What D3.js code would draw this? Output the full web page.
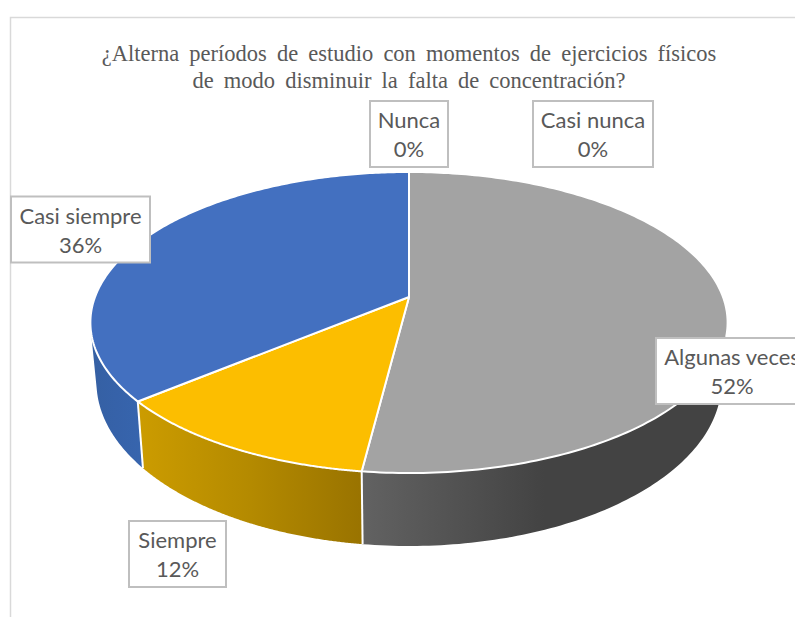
<!DOCTYPE html>
<html>
<head>
<meta charset="utf-8">
<script src="https://cdn.jsdelivr.net/npm/d3@7"></script>
<style>
html,body{margin:0;padding:0;background:#fff;overflow:hidden}
</style>
</head>
<body>
<svg id="app" width="795" height="617"></svg>
<script>
const categories = ['Nunca', 'Casi nunca', 'Algunas veces', 'Siempre', 'Casi siempre'];
const values = [0, 0, 52, 12, 36];
const titleLines = ['¿Alterna períodos de estudio con momentos de ejercicios físicos', 'de modo disminuir la falta de concentración?'];

const topColors = {'Algunas veces': '#a3a3a3', 'Siempre': '#fcbe00', 'Casi siempre': '#4370c0', 'Nunca': '#5b9bd5', 'Casi nunca': '#ed7d31'};
const wallColors = {
  'Algunas veces': ['#626262', '#434343', '#434343'],
  'Siempre': ['#cc9c00', '#b48a00', '#997300'],
  'Casi siempre': ['#3560a3', '#3662a9', '#3765ae'],
  'Nunca': ['#5b9bd5', '#5b9bd5', '#5b9bd5'],
  'Casi nunca': ['#ed7d31', '#ed7d31', '#ed7d31'],
};
const labelBoxes = {
  'Nunca': [409, 134, 78],
  'Casi nunca': [593, 134, 120],
  'Algunas veces': [732, 371, 152],
  'Siempre': [177.5, 554, 97],
  'Casi siempre': [80.5, 229.5, 139],
};

let svg = d3.select('#app')

// perspective disc: v is depth on the unit circle, c the foreshortening
const centerX = 409;
const c = 0.1694;
const topRim = {d: 314, a: 297, b: -95.9};
const bottomRim = {d: 308, a: 354.5, b: -99};

function project(rim, angle) {
  const u = Math.sin(angle), v = Math.cos(angle);
  const w = 1 + c * v;
  return [centerX + rim.d * u / w, (rim.a + rim.b * v) / w];
}

function rimPoints(rim, a0, a1) {
  return d3.range(0, 201).map(i => project(rim, a0 + (a1 - a0) * i / 200));
}

// the wall as quads between the rims, only those that face the viewer
function wallPath(a0, a1) {
  const t = rimPoints(topRim, a0, a1), b = rimPoints(bottomRim, a0, a1);
  let out = '';
  for (let i = 0; i < 200; i++) {
    const quad = [t[i], t[i + 1], b[i + 1], b[i]];
    if (d3.polygonArea(quad) > 0) out += d3.line()(quad) + 'Z';
  }
  return out;
}

const pie = d3.pie().value((d, i) => values[i]).sort(null);
const slices = pie(categories);
const line = d3.line();

let defs = svg.append('defs');
slices.forEach((s, i) => {
  const g = defs.append('linearGradient').attr('id', 'wall' + i);
  wallColors[s.data].forEach((col, k) => {
    g.append('stop').attr('offset', k / 2).attr('stop-color', col);
  });
});

const drawn = slices.filter(s => s.value > 0);

// frame
svg.append('path')
.attr('d', 'M795,17.5 L10.5,17.5 L10.5,617')
.attr('fill', 'none')
.attr('stroke', '#d9d9d9')
.attr('stroke-width', 1.5);

// side walls first, the top face covers their back part
svg.append('g').selectAll('path')
.data(drawn)
.enter()
.append('path')
.attr('d', d => wallPath(d.startAngle, d.endAngle))
.attr('fill', d => `url(#wall${d.index})`)
.attr('stroke', 'none');

// white seams between the walls
svg.append('g').selectAll('path')
.data(drawn.filter(d => Math.sin(d.endAngle) < 0 && Math.cos(d.endAngle) < 0))
.enter()
.append('path')
.attr('d', d => line([project(topRim, d.endAngle), project(bottomRim, d.endAngle)]))
.attr('stroke', '#fff')
.attr('stroke-width', 2);

// top face
svg.append('g').selectAll('path')
.data(drawn)
.enter()
.append('path')
.attr('d', d => line([[centerX, topRim.a]].concat(rimPoints(topRim, d.startAngle, d.endAngle))) + 'Z')
.attr('fill', d => topColors[d.data])
.attr('stroke', '#fff')
.attr('stroke-width', 2)
.attr('stroke-linejoin', 'round');

// title
svg.append('g').selectAll('text')
.data(titleLines)
.enter()
.append('text')
.attr('x', 409)
.attr('y', (d, i) => 61 + i * 27)
.attr('text-anchor', 'middle')
.attr('font-family', '"Liberation Serif", serif')
.attr('font-size', 22.5)
.attr('word-spacing', 4.5)
.attr('fill', '#595959')
.text(d => d);

// data labels
let labelG = svg.append('g').selectAll('g')
.data(slices)
.enter()
.append('g')
.attr('transform', d => `translate(${labelBoxes[d.data][0]},${labelBoxes[d.data][1]})`);

labelG.append('rect')
.attr('x', d => -labelBoxes[d.data][2] / 2)
.attr('y', -33)
.attr('width', d => labelBoxes[d.data][2])
.attr('height', 66)
.attr('fill', '#fff')
.attr('stroke', '#bfbfbf')
.attr('stroke-width', 2);

labelG.append('text')
.attr('text-anchor', 'middle')
.attr('y', -6)
.attr('font-family', 'Lato, sans-serif')
.attr('font-size', 22)
.attr('fill', '#595959')
.text(d => d.data);

labelG.append('text')
.attr('text-anchor', 'middle')
.attr('y', 23)
.attr('font-family', 'Lato, sans-serif')
.attr('font-size', 22)
.attr('fill', '#595959')
.text(d => d.value + '%');
</script>
</body>
</html>
